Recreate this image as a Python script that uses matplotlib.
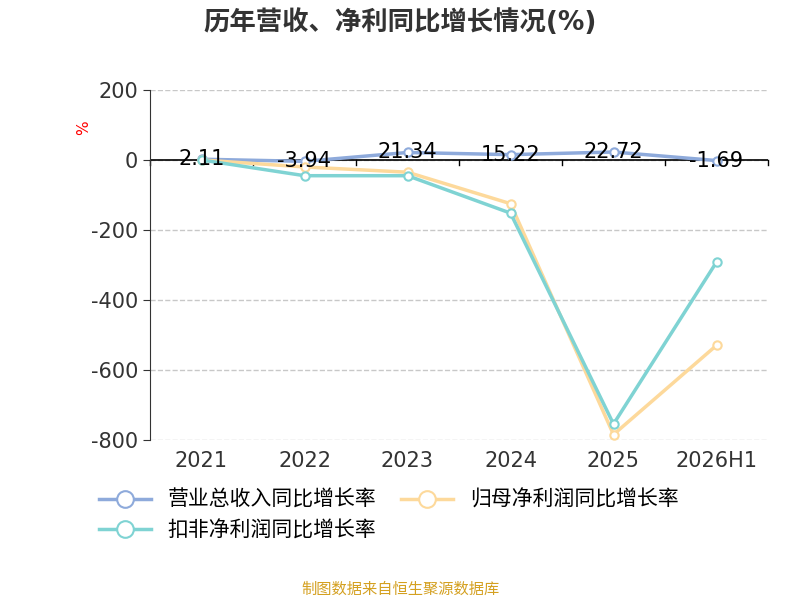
import numpy as np
import matplotlib.pyplot as plt

plt.rcParams['font.family'] = ['DejaVu Sans', 'Noto Sans CJK SC']
plt.rcParams['axes.unicode_minus'] = False

years = ['2021', '2022', '2023', '2024', '2025', '2026H1']
revenue = [2.11, -3.94, 21.34, 15.22, 22.72, -1.69]
net_profit = [0, -20, -35, -125, -785, -530]
deducted = [0, -45, -45, -152, -755, -292]

fig = plt.figure(figsize=(8, 6), dpi=100)
ax = fig.add_axes([0.1875, 0.267, 0.7725, 0.583])

x = np.arange(len(years))
l1, = ax.plot(x, revenue, color='#8eaadb', lw=2.5, marker='o', ms=6, mfc='white', mew=1.5,
              label='营业总收入同比增长率', zorder=3)
l2, = ax.plot(x, net_profit, color='#fdd99b', lw=2.5, marker='o', ms=6, mfc='white', mew=1.5,
              label='归母净利润同比增长率', zorder=3)
l3, = ax.plot(x, deducted, color='#7fd3d3', lw=2.5, marker='o', ms=6, mfc='white', mew=1.5,
              label='扣非净利润同比增长率', zorder=4)
for xi, v in zip(x, revenue):
    ax.text(xi, v, f'{v:.2f}', ha='center', va='center', fontsize=15, zorder=5)

ax.set_xlim(-0.5, len(years) - 0.5)
ax.set_ylim(-800, 200)
ax.set_yticks([200, 0, -200, -400, -600, -800])
ax.tick_params(axis='y', labelsize=15, colors='#333333', length=5)
ax.set_xticks(x)
ax.set_xticklabels(years, fontsize=15, color='#333333')
ax.tick_params(axis='x', length=0, pad=8)
ax.grid(axis='y', ls='--', color='#c8c8c8', lw=1)
for s in ['top', 'right', 'bottom']:
    ax.spines[s].set_visible(False)
ax.spines['left'].set_color('#333333')
ax.axhline(0, color='black', lw=1.2, zorder=2)
for b in np.arange(-0.5, len(years), 1):
    ax.plot([b, b], [0, -15], color='black', lw=1, clip_on=False)

fig.text(0.105, 0.78, '%', color='red', rotation=90, fontsize=11, ha='center')
fig.suptitle('历年营收、净利同比增长情况(%)', fontsize=19, fontweight='bold', y=0.985, color='#333333')
fig.legend([l1, l3, l2], [l1.get_label(), l3.get_label(), l2.get_label()],
           loc='upper left', bbox_to_anchor=(0.1, 0.215), ncol=2, frameon=False,
           fontsize=15, handlelength=2.5, columnspacing=1.2, markerscale=2)
fig.text(0.5, 0.01, '制图数据来自恒生聚源数据库', color='#d4a020', fontsize=11, ha='center')

fig.savefig('out.png')
